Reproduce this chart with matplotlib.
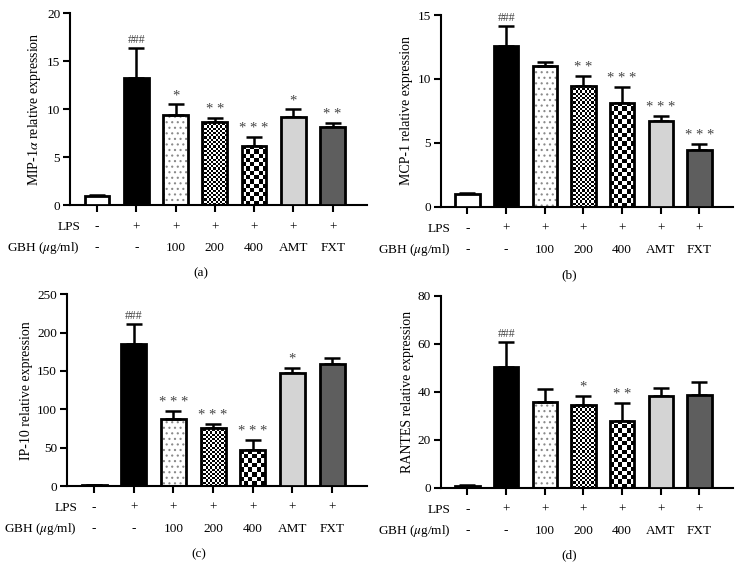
import numpy as np
import matplotlib
matplotlib.use("Agg")
import matplotlib.pyplot as plt
import matplotlib.transforms as mtransforms

plt.rcParams['font.family'] = ['Liberation Serif', 'DejaVu Serif']
plt.rcParams['mathtext.fontset'] = 'stix'
plt.rcParams['hatch.linewidth'] = 0.8

groups = ['Control', 'LPS', '100', '200', '400', 'AMT', 'FXT']
lps_row = ['-', '+', '+', '+', '+', '+', '+']
gbh_row = ['-', '-', '100', '200', '400', 'AMT', 'FXT']

mip_mean = [1.0, 13.3, 9.4, 8.7, 6.2, 9.2, 8.2]
mip_err = [0.1, 3.1, 1.1, 0.35, 0.9, 0.8, 0.35]
mip_sig = ['', '###', '*', '**', '***', '*', '**']

mcp_mean = [1.0, 12.55, 11.0, 9.45, 8.15, 6.75, 4.45]
mcp_err = [0.12, 1.6, 0.3, 0.8, 1.25, 0.37, 0.47]
mcp_sig = ['', '###', '', '**', '***', '***', '***']

ip_mean = [1.0, 185, 88, 76, 47, 147, 159]
ip_err = [0.5, 26, 10, 5, 13, 7, 8]
ip_sig = ['', '###', '***', '***', '***', '*', '']

rantes_mean = [0.8, 50.5, 35.6, 34.7, 28.0, 38.1, 38.7]
rantes_err = [0.4, 10.1, 5.6, 3.7, 7.2, 3.4, 5.3]
rantes_sig = ['', '###', '', '*', '**', '', '']

fills = ['white', 'black', 'white', 'white', 'white', '#d4d4d4', '#5e5e5e']

panels = [
    (mip_mean, mip_err, mip_sig, 'MIP-1$\\alpha$ relative expression', 20, 5, '(a)',
     [0.0943, 0.645, 0.400, 0.332]),
    (mcp_mean, mcp_err, mcp_sig, 'MCP-1 relative expression', 15, 5, '(b)',
     [0.594, 0.642, 0.394, 0.332]),
    (ip_mean, ip_err, ip_sig, 'IP-10 relative expression', 250, 50, '(c)',
     [0.090, 0.159, 0.404, 0.332]),
    (rantes_mean, rantes_err, rantes_sig, 'RANTES relative expression', 80, 20, '(d)',
     [0.594, 0.156, 0.394, 0.332]),
]

fig = plt.figure(figsize=(7.42, 5.78), dpi=100)
x = np.arange(len(groups))
w = 0.63
fs = 9.5


def checker_fill(ax, bar, cell_px):
    # checkerboard pattern clipped to the bar
    x0, y0 = bar.get_x(), bar.get_y()
    x1, y1 = x0 + bar.get_width(), y0 + bar.get_height()
    p0 = ax.transData.transform((x0, y0))
    p1 = ax.transData.transform((x1, y1))
    nc = max(1, int(round(abs(p1[0] - p0[0]) / cell_px)))
    nr = max(1, int(round(abs(p1[1] - p0[1]) / cell_px)))
    board = (np.add.outer(np.arange(nr), np.arange(nc)) % 2).astype(float)
    im = ax.imshow(board, cmap='gray', extent=(x0, x1, y0, y1), aspect='auto',
                   interpolation='nearest', zorder=2, vmin=0, vmax=1)
    im.set_clip_path(bar)


for mean, err, sig, ylabel, ymax, ystep, tag, rect in panels:
    ax = fig.add_axes(rect)
    ax.set_xlim(-0.69, 6.87)
    ax.set_ylim(0, ymax)
    # dotted fill for the 100 ug/ml bar (grey dots, drawn under the outline)
    ax.bar(x[2], mean[2], width=w, color='white', edgecolor='#8a8a8a', linewidth=0,
           hatch='...', zorder=2)
    bars = ax.bar(x, mean, width=w, color=fills, edgecolor='black', linewidth=2.0, zorder=3)
    bars[2].set_facecolor('none')
    ax.errorbar(x, mean, yerr=[np.zeros(len(err)), err], fmt='none', ecolor='black',
                elinewidth=1.8, capsize=6, capthick=1.8, zorder=2)
    fig.canvas.draw()
    for i, cell in [(3, 2.2), (4, 4.3)]:
        bars[i].set_facecolor('none')
        checker_fill(ax, bars[i], cell)
    for i, s in enumerate(sig):
        if s:
            is_hash = s.startswith('#')
            ax.annotate(s if is_hash else ' '.join(s), (x[i], mean[i] + err[i]),
                        xytext=(0, 1.5), textcoords='offset points', ha='center', va='bottom',
                        fontsize=8.5 if is_hash else 10.5, color='#444444')
    ax.set_yticks(np.arange(0, ymax + 1, ystep))
    ax.set_xticks(x)
    ax.set_xticklabels([])
    ax.tick_params(axis='both', direction='out', length=5, width=1.5, labelsize=fs)
    ax.tick_params(axis='y', pad=2)
    for sp in ['top', 'right']:
        ax.spines[sp].set_visible(False)
    for sp in ['left', 'bottom']:
        ax.spines[sp].set_linewidth(1.5)
    ax.set_ylabel(ylabel, fontsize=10, labelpad=3)

    trans = mtransforms.blended_transform_factory(ax.transData, ax.transAxes)
    ax.text(-0.43, -0.115, 'LPS', transform=trans, ha='right', va='center', fontsize=fs)
    ax.text(-0.43, -0.224, 'GBH ($\\mu$g/ml)', transform=trans, ha='right', va='center', fontsize=fs)
    for i in range(len(groups)):
        ax.text(x[i], -0.115, lps_row[i], transform=trans, ha='center', va='center', fontsize=fs)
        ax.text(x[i], -0.224, gbh_row[i], transform=trans, ha='center', va='center', fontsize=fs)
    ax.text(0.44, -0.354, tag, transform=ax.transAxes, ha='center', va='center', fontsize=fs)

fig.savefig('out.png', dpi=100)
